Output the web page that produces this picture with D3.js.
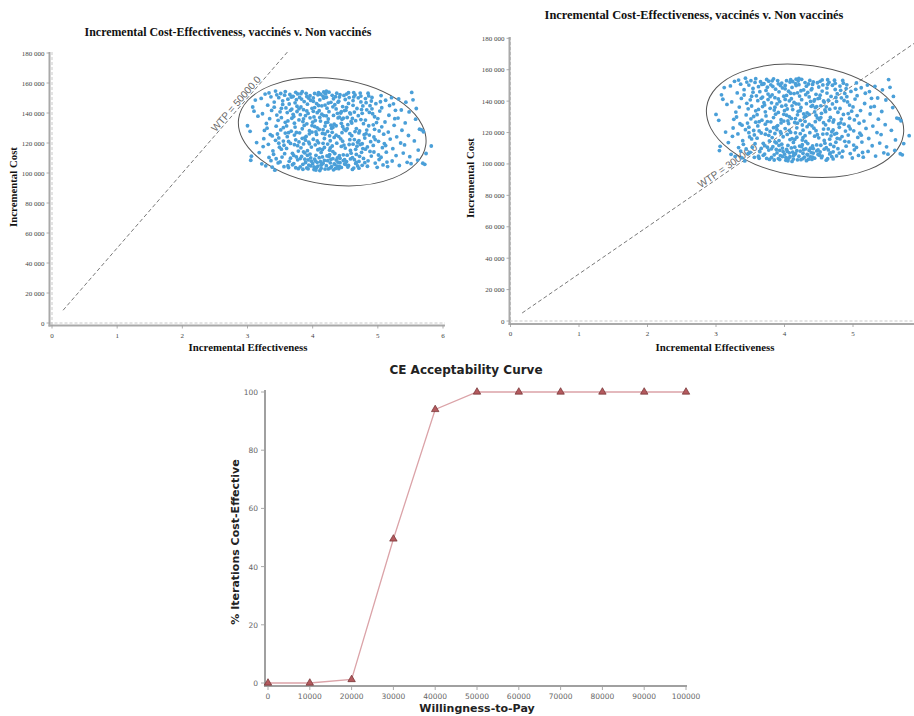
<!DOCTYPE html>
<html lang="en">
<head>
<meta charset="UTF-8">
<title>ICER and CEAC</title>
<script src="https://cdnjs.cloudflare.com/ajax/libs/d3/7.8.5/d3.min.js"></script>
<style>
    body{
        margin:0;
        background:#fff;
    }
    svg{
        display:block;
    }
</style>
</head>
<body>
<svg id="chart" width="914" height="716"></svg>
<script>
// ---- data ----
// simulated iterations: [incremental effectiveness, incremental cost (thousands)]
const cloud = [
[3.00,131.5],[3.04,127.8],[3.05,108.5],[3.06,111.2],
[3.08,144.0],[3.12,148.6],[3.10,141.2],[3.14,120.3],[3.18,113.6],[3.16,137.9],
[3.21,149.7],[3.24,117.6],[3.22,106.1],[3.26,128.4],[3.28,104.8],[3.23,139.5],[3.27,152.6],[3.25,122.9],[3.29,133.0],
[3.31,145.2],[3.33,110.4],[3.35,125.6],[3.32,119.1],[3.36,150.8],[3.38,103.9],[3.34,136.2],[3.37,141.7],[3.39,114.8],[3.30,129.9],[3.36,108.2],[3.33,153.4],
[3.41,147.3],[3.43,121.8],[3.40,112.5],[3.45,138.6],[3.47,106.7],[3.44,131.2],[3.48,150.2],[3.42,101.9],[3.46,126.0],[3.49,117.2],[3.41,143.9],[3.44,109.5],[3.47,135.1],[3.43,154.6],[3.48,123.4],
[3.50,140.8],[3.52,115.9],[3.54,148.1],[3.51,128.7],[3.56,104.2],[3.58,133.8],[3.53,110.6],[3.57,151.9],[3.55,121.3],[3.59,143.4],[3.52,136.9],[3.56,118.5],[3.50,107.4],[3.58,126.6],[3.54,145.7],[3.57,112.9],[3.51,153.0],
[3.60,131.4],[3.62,149.2],[3.64,107.8],[3.61,140.3],[3.66,119.7],[3.68,136.5],[3.63,103.6],[3.67,127.9],[3.65,152.4],[3.69,113.1],[3.61,124.2],[3.64,146.0],[3.66,109.9],[3.62,134.7],[3.68,142.6],[3.60,116.4],[3.67,150.6],[3.63,121.0],[3.69,105.5],
[3.70,139.1],[3.72,125.3],[3.74,153.8],[3.71,111.7],[3.76,144.5],[3.78,102.9],[3.73,130.6],[3.77,118.2],[3.75,148.9],[3.79,135.4],[3.71,106.3],[3.74,122.1],[3.76,141.0],[3.70,151.1],[3.78,114.6],[3.72,133.2],[3.77,108.8],[3.75,127.0],[3.73,146.8],[3.79,120.7],[3.71,137.6],
[3.80,150.4],[3.82,116.8],[3.84,129.5],[3.81,104.1],[3.86,142.2],[3.88,123.6],[3.83,111.0],[3.87,147.6],[3.85,134.3],[3.89,107.0],[3.81,138.9],[3.84,154.2],[3.86,119.4],[3.80,126.8],[3.88,113.4],[3.82,144.0],[3.87,131.7],[3.85,102.5],[3.83,149.3],[3.89,121.9],[3.81,109.6],[3.86,136.1],
[3.90,124.4],[3.92,145.9],[3.94,105.3],[3.91,132.8],[3.96,151.5],[3.98,117.3],[3.93,139.7],[3.97,110.1],[3.95,128.2],[3.99,143.1],[3.91,103.4],[3.94,120.6],[3.96,136.8],[3.90,153.1],[3.98,107.9],[3.92,114.9],[3.97,148.4],[3.95,126.1],[3.93,108.7],[3.99,131.6],[3.91,141.4],[3.96,112.6],[3.94,149.9],
[4.00,106.2],[4.02,137.4],[4.04,118.8],[4.01,150.0],[4.06,125.7],[4.08,104.6],[4.03,143.6],[4.07,130.1],[4.05,111.8],[4.09,153.6],[4.01,122.5],[4.04,108.0],[4.06,146.3],[4.00,133.9],[4.08,115.5],[4.02,102.3],[4.07,140.2],[4.05,127.4],[4.03,109.3],[4.09,120.1],[4.01,147.8],[4.06,103.7],[4.04,135.0],[4.08,152.1],
[4.10,129.0],[4.12,107.5],[4.14,144.8],[4.11,116.1],[4.16,151.2],[4.18,123.0],[4.13,103.1],[4.17,138.3],[4.15,110.7],[4.19,131.3],[4.11,148.7],[4.14,105.9],[4.16,119.8],[4.10,141.5],[4.18,108.4],[4.12,134.6],[4.17,154.0],[4.15,126.4],[4.13,113.7],[4.19,145.3],[4.11,101.6],[4.16,128.9],[4.14,139.2],[4.18,117.0],
[4.20,152.8],[4.22,111.4],[4.24,136.0],[4.21,104.9],[4.26,124.8],[4.28,147.1],[4.23,119.3],[4.27,106.8],[4.25,140.9],[4.29,129.8],[4.21,150.5],[4.24,102.7],[4.26,115.2],[4.20,133.5],[4.28,109.1],[4.22,143.2],[4.27,121.5],[4.25,153.9],[4.23,127.7],[4.29,104.3],[4.21,138.1],[4.26,112.3],[4.24,146.6],[4.28,131.9],
[4.30,118.0],[4.32,149.5],[4.34,105.7],[4.31,130.4],[4.36,142.7],[4.38,110.0],[4.33,123.7],[4.37,153.2],[4.35,103.0],[4.39,136.7],[4.31,114.3],[4.34,145.5],[4.36,108.6],[4.30,127.1],[4.38,139.8],[4.32,102.1],[4.37,119.9],[4.35,150.9],[4.33,132.5],[4.39,107.2],[4.31,144.1],[4.36,125.2],[4.34,113.0],
[4.40,147.9],[4.42,109.8],[4.44,133.1],[4.41,104.4],[4.46,121.2],[4.48,151.7],[4.43,140.0],[4.47,112.1],[4.45,126.9],[4.49,106.0],[4.41,137.2],[4.44,117.7],[4.46,144.3],[4.40,102.9],[4.48,129.3],[4.42,152.2],[4.47,108.3],[4.45,135.8],[4.43,122.8],[4.49,141.6],[4.41,111.5],[4.46,131.0],
[4.50,116.6],[4.52,143.8],[4.54,104.0],[4.51,128.3],[4.56,150.3],[4.58,109.4],[4.53,137.0],[4.57,122.2],[4.55,146.4],[4.59,113.2],[4.51,105.6],[4.54,132.2],[4.56,119.0],[4.50,149.0],[4.58,139.4],[4.52,107.6],[4.57,126.3],[4.55,153.5],[4.53,111.9],[4.59,134.4],[4.51,141.9],
[4.60,124.9],[4.62,148.3],[4.64,108.9],[4.61,136.4],[4.66,115.8],[4.68,143.0],[4.63,103.3],[4.67,129.6],[4.65,152.0],[4.69,120.5],[4.61,110.3],[4.64,140.6],[4.66,106.4],[4.60,133.3],[4.68,117.9],[4.62,145.1],[4.67,112.4],[4.65,127.6],[4.63,150.7],[4.69,104.7],
[4.70,138.2],[4.72,111.1],[4.74,147.4],[4.71,121.6],[4.76,105.1],[4.78,132.9],[4.73,153.3],[4.77,116.3],[4.75,142.3],[4.79,125.5],[4.71,107.7],[4.74,135.6],[4.76,119.5],[4.70,150.1],[4.78,109.7],[4.72,128.0],[4.77,144.7],[4.75,113.8],
[4.80,123.3],[4.82,146.9],[4.84,104.5],[4.81,135.3],[4.86,151.4],[4.88,114.4],[4.83,128.6],[4.87,140.4],[4.85,108.1],[4.89,120.9],[4.81,149.6],[4.84,117.4],[4.86,131.5],[4.80,106.9],[4.88,144.9],[4.82,126.2],
[4.90,111.3],[4.92,139.5],[4.94,124.0],[4.91,150.4],[4.96,106.6],[4.98,133.6],[4.93,118.4],[4.97,146.2],[4.95,129.1],[4.99,103.8],[4.91,142.8],[4.94,114.0],[4.96,122.3],[4.90,148.0],
[5.00,136.3],[5.02,109.0],[5.04,147.5],[5.01,121.1],[5.06,130.8],[5.08,105.4],[5.03,141.3],[5.07,116.9],[5.05,151.6],[5.09,125.9],[5.01,112.0],[5.06,143.5],
[5.10,119.6],[5.12,148.5],[5.14,107.3],[5.11,134.0],[5.16,127.3],[5.18,145.0],[5.13,113.9],[5.17,138.5],[5.15,104.3],[5.19,122.6],
[5.21,150.2],[5.23,116.2],[5.25,131.8],[5.22,108.0],[5.27,141.8],[5.29,124.1],[5.24,146.1],[5.28,111.6],
[5.31,136.6],[5.33,105.0],[5.35,120.0],[5.32,149.4],[5.37,128.5],[5.39,113.3],[5.36,142.0],
[5.41,118.7],[5.43,147.2],[5.45,107.1],[5.42,133.4],[5.47,125.0],[5.48,140.7],
[5.49,110.9],[5.52,153.7],[5.54,148.8],[5.51,106.2],[5.56,121.4],[5.58,135.9],
[5.59,143.0],[5.62,115.3],[5.64,129.2],[5.61,108.6],
[5.67,128.8],[5.70,127.5],[5.69,106.5],[5.72,105.8],[5.74,113.0],
[5.82,118.0],
// denser core and bands
[3.62,104.9],[3.74,103.5],[3.85,105.8],[3.93,102.8],[4.02,104.1],[4.07,107.1],[4.13,105.2],[4.19,102.6],[4.23,108.2],[4.27,103.4],
[4.33,106.1],[4.38,104.5],[4.44,103.7],[4.49,108.9],[4.55,105.0],[4.61,102.4],[4.67,107.0],[4.71,103.2],[3.97,104.7],[4.10,110.2],
[4.31,109.6],[4.42,106.9],[3.88,109.2],[4.05,102.0],[4.16,106.5],
[3.45,152.1],[3.58,154.3],[3.69,150.9],[3.77,152.7],[3.91,151.0],[4.03,153.0],[4.12,152.5],[4.21,154.5],[4.30,151.8],[4.41,150.6],
[4.52,152.6],[4.63,153.6],[4.74,151.3],[4.85,153.2],[3.82,152.9],[4.17,149.9],
[3.55,130.2],[3.63,126.9],[3.72,118.9],[3.79,142.8],[3.84,123.1],[3.89,138.2],[3.95,119.5],[3.99,127.3],[4.03,131.0],[4.07,121.4],
[4.11,137.0],[4.15,115.6],[4.19,126.0],[4.23,133.9],[4.27,116.7],[4.32,138.4],[4.36,131.5],[4.40,124.3],[4.44,140.9],[4.48,118.6],
[4.53,129.5],[4.57,140.1],[4.62,119.2],[4.66,134.9],[4.71,126.7],[4.76,139.8],[4.81,115.9],[4.87,125.3],[4.93,132.1],[5.02,128.0],
[3.48,119.9],[3.66,141.8],[3.75,110.7],[3.92,111.8],[4.09,145.0],[4.25,111.0],[4.39,147.2],[4.58,115.0],[4.73,119.0],[4.95,137.5],
[5.12,118.3],[5.26,136.2],[3.38,124.7],[3.52,143.1],[4.47,136.5],[4.64,122.3],[4.83,142.1],[5.05,110.5],[3.86,114.1],[4.01,141.1]
];

const costTicks = [0, 20000, 40000, 60000, 80000, 100000, 120000, 140000, 160000, 180000];
const effTicks = [0, 1, 2, 3, 4, 5, 6];

// confidence ellipse (effectiveness, cost)
const ellipseCenter = [4.3, 127500];
const ellipseSemiAxes = [1.45, 35300];
const ellipseTilt = 8;

// WTP threshold lines, one per panel
const wtpValues = [50000, 30000];
const wtpLineFrom = [0.17, 0.17];
const wtpLineTo = [3.62, 6];
const wtpLabelAt = [2.88, 3.21];

// acceptability curve
const wtpSteps = [0, 10000, 20000, 30000, 40000, 50000, 60000, 70000, 80000, 90000, 100000];
const pctCostEffective = [0, 0, 1.2, 49.5, 94, 100, 100, 100, 100, 100, 100];
const pctTicks = [0, 20, 40, 60, 80, 100];

const W = 914;
const svg = d3.select("#chart");
const serif = "'Liberation Serif','Times New Roman',serif";
const sans = "'DejaVu Sans',Verdana,sans-serif";

const titleText = "Incremental Cost-Effectiveness, vaccinés v. Non vaccinés";

// layout of the two scatter panels
const panels = [
    {x0:52, x6:443, y0:323, yTop:53, axisX:49.5, axisY:325.5, axisTop:52, axisRight:445,
     title:[228,36], titleSize:11.9, ylab:[17,187], xlab:[248,351], tickY:338},
    {x0:510.5, x6:921.5, y0:321, yTop:38.3, axisX:509.5, axisY:324, axisTop:37, axisRight:914,
     title:[694,19], titleSize:12.4, ylab:[474,178], xlab:[715,351], tickY:336}
];

panels.forEach((p, i) => {
    const g = svg.append("g");
    const x = d3.scaleLinear().domain([0, 6]).range([p.x0, p.x6]);
    const y = d3.scaleLinear().domain([0, 180000]).range([p.y0, p.yTop]);

    // title
    g.append("text")
        .attr("x", p.title[0]).attr("y", p.title[1])
        .attr("text-anchor", "middle")
        .style("font-family", serif).style("font-weight", "bold")
        .style("font-size", p.titleSize + "px").attr("fill", "#111")
        .text(titleText);

    // zero reference lines (dashed)
    g.append("line")
        .attr("x1", x(0)).attr("x2", x(0))
        .attr("y1", p.axisTop).attr("y2", p.axisY)
        .attr("stroke", "#bbb").attr("stroke-width", 0.8).attr("stroke-dasharray", "3,2");
    g.append("line")
        .attr("x1", p.axisX).attr("x2", p.axisRight)
        .attr("y1", y(0)).attr("y2", y(0))
        .attr("stroke", "#bbb").attr("stroke-width", 0.8).attr("stroke-dasharray", "3,2");

    // solid axes
    g.append("line")
        .attr("x1", p.axisX).attr("x2", p.axisX)
        .attr("y1", p.axisTop).attr("y2", p.axisY + 1)
        .attr("stroke", "#a9a9a9").attr("stroke-width", 2);
    g.append("line")
        .attr("x1", p.axisX - 1).attr("x2", p.axisRight)
        .attr("y1", p.axisY).attr("y2", p.axisY)
        .attr("stroke", "#a9a9a9").attr("stroke-width", 2);

    // y ticks
    const fmt = v => d3.format(",")(v).replace(/,/g, " ");
    const yt = g.append("g");
    yt.selectAll("line").data(costTicks).join("line")
        .attr("x1", p.axisX - 3).attr("x2", p.axisX)
        .attr("y1", d => y(d)).attr("y2", d => y(d))
        .attr("stroke", "#999").attr("stroke-width", 0.8);
    yt.selectAll("text").data(costTicks).join("text")
        .attr("x", p.axisX - 5).attr("y", d => y(d) + 2.5)
        .attr("text-anchor", "end")
        .style("font-family", serif).style("font-size", "7px").attr("fill", "#444")
        .text(fmt);

    // x ticks (only those inside the picture)
    const shown = effTicks.filter(d => x(d) < W - 4);
    const xt = g.append("g");
    xt.selectAll("line").data(shown).join("line")
        .attr("x1", d => x(d)).attr("x2", d => x(d))
        .attr("y1", p.axisY).attr("y2", p.axisY + 3)
        .attr("stroke", "#999").attr("stroke-width", 0.8);
    xt.selectAll("text").data(shown).join("text")
        .attr("x", d => x(d)).attr("y", p.tickY)
        .attr("text-anchor", "middle")
        .style("font-family", serif).style("font-size", "7px").attr("fill", "#444")
        .text(d => d);

    // axis labels
    g.append("text")
        .attr("transform", `translate(${p.ylab[0]},${p.ylab[1]}) rotate(-90)`)
        .attr("text-anchor", "middle")
        .style("font-family", serif).style("font-weight", "bold").style("font-size", "10.8px")
        .attr("fill", "#111")
        .text("Incremental Cost");
    g.append("text")
        .attr("x", p.xlab[0]).attr("y", p.xlab[1])
        .attr("text-anchor", "middle")
        .style("font-family", serif).style("font-weight", "bold").style("font-size", "10.8px")
        .attr("fill", "#111")
        .text("Incremental Effectiveness");

    // WTP line + label
    const wtp = wtpValues[i];
    g.append("line")
        .attr("x1", x(wtpLineFrom[i])).attr("y1", y(wtp * wtpLineFrom[i]))
        .attr("x2", x(wtpLineTo[i])).attr("y2", y(wtp * wtpLineTo[i]))
        .attr("stroke", "#555").attr("stroke-width", 0.8).attr("stroke-dasharray", "4,2.5");
    const ang = Math.atan2(y(0) - y(wtp), x(1) - x(0)) * 180 / Math.PI;
    g.append("text")
        .attr("transform", `translate(${x(wtpLabelAt[i])},${y(wtp * wtpLabelAt[i])}) rotate(${-ang})`)
        .attr("dy", -1.5)
        .attr("text-anchor", "middle")
        .style("font-family", "'Liberation Sans',Arial,sans-serif").style("font-size", "10px")
        .attr("fill", "#666")
        .text("WTP = " + d3.format(".1f")(wtp));

    // confidence ellipse
    const ecx = x(ellipseCenter[0]), ecy = y(ellipseCenter[1]);
    g.append("ellipse")
        .attr("cx", ecx).attr("cy", ecy)
        .attr("rx", x(ellipseCenter[0] + ellipseSemiAxes[0]) - ecx)
        .attr("ry", ecy - y(ellipseCenter[1] + ellipseSemiAxes[1]))
        .attr("transform", `rotate(${ellipseTilt},${ecx},${ecy})`)
        .attr("fill", "none").attr("stroke", "#555").attr("stroke-width", 1);

    // iterations
    g.append("g").selectAll("circle").data(cloud).join("circle")
        .attr("cx", d => x(d[0]))
        .attr("cy", d => y(d[1] * 1000))
        .attr("r", 1.9)
        .attr("fill", "#4a9fd8");
});

// ---- CE acceptability curve ----
const ce = svg.append("g");
const cx = d3.scaleLinear().domain([0, 100000]).range([268, 686]);
const cy = d3.scaleLinear().domain([0, 100]).range([683, 392]);
const ceData = wtpSteps.map((w, i) => [w, pctCostEffective[i]]);

ce.append("text")
    .attr("x", 466).attr("y", 374)
    .attr("text-anchor", "middle")
    .style("font-family", sans).style("font-weight", "bold").style("font-size", "12px")
    .attr("fill", "#222")
    .text("CE Acceptability Curve");

ce.append("line")
    .attr("x1", 265).attr("x2", 265).attr("y1", 390).attr("y2", 687)
    .attr("stroke", "#a0a0a0").attr("stroke-width", 2);
ce.append("line")
    .attr("x1", 264).attr("x2", 687).attr("y1", 686).attr("y2", 686)
    .attr("stroke", "#a0a0a0").attr("stroke-width", 2);

ce.selectAll(".yt").data(pctTicks).join("text")
    .attr("class", "yt")
    .attr("x", 258).attr("y", d => cy(d) + 3)
    .attr("text-anchor", "end")
    .style("font-family", sans).style("font-size", "7.5px").attr("fill", "#666")
    .text(d => d);
ce.selectAll(".ytl").data(pctTicks).join("line")
    .attr("class", "ytl")
    .attr("x1", 261).attr("x2", 264).attr("y1", d => cy(d)).attr("y2", d => cy(d))
    .attr("stroke", "#aaa");
ce.selectAll(".xt").data(wtpSteps).join("text")
    .attr("class", "xt")
    .attr("x", d => cx(d)).attr("y", 699)
    .attr("text-anchor", "middle")
    .style("font-family", sans).style("font-size", "7.5px").attr("fill", "#666")
    .text(d => d);
ce.selectAll(".xtl").data(wtpSteps).join("line")
    .attr("class", "xtl")
    .attr("x1", d => cx(d)).attr("x2", d => cx(d)).attr("y1", 687).attr("y2", 690)
    .attr("stroke", "#aaa");

ce.append("text")
    .attr("transform", "translate(239,542) rotate(-90)")
    .attr("text-anchor", "middle")
    .style("font-family", sans).style("font-weight", "bold").style("font-size", "11px")
    .attr("fill", "#222")
    .text("% Iterations Cost-Effective");
ce.append("text")
    .attr("x", 477).attr("y", 712)
    .attr("text-anchor", "middle")
    .style("font-family", sans).style("font-weight", "bold").style("font-size", "11px")
    .attr("fill", "#222")
    .text("Willingness-to-Pay");

ce.append("path")
    .datum(ceData)
    .attr("d", d3.line().x(d => cx(d[0])).y(d => cy(d[1])))
    .attr("fill", "none").attr("stroke", "#dba3a8").attr("stroke-width", 1.3);

ce.selectAll(".mk").data(ceData).join("path")
    .attr("class", "mk")
    .attr("transform", d => `translate(${cx(d[0])},${cy(d[1])})`)
    .attr("d", d3.symbol(d3.symbolTriangle, 24))
    .attr("fill", "#b45a5e").attr("stroke", "#6e2b2d").attr("stroke-width", 0.7);
</script>
</body>
</html>
